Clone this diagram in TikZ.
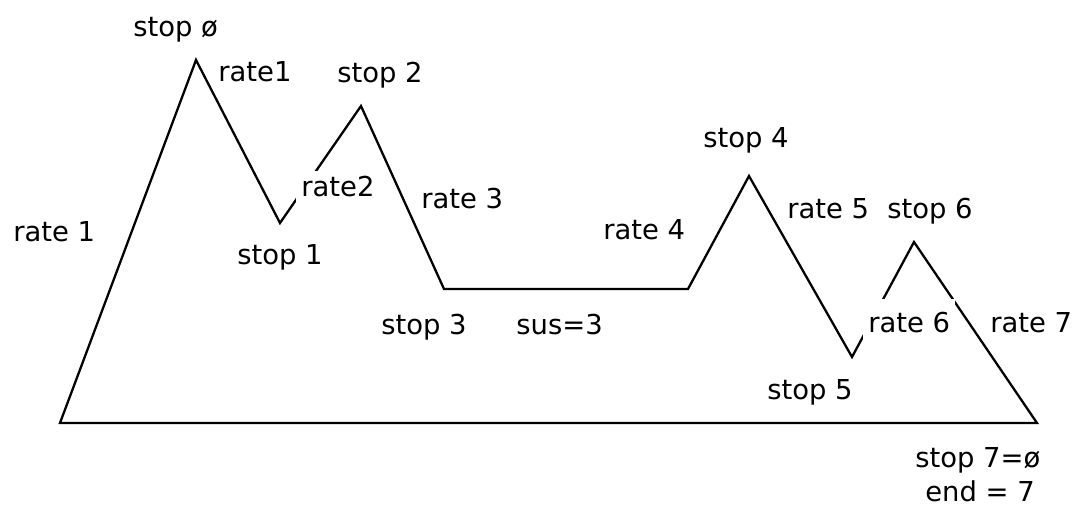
\documentclass[tikz,border=0pt]{standalone}
\usepackage{fontspec}
\setmainfont{DejaVu Sans}
\usepackage{tikz}

\begin{document}
\begin{tikzpicture}[
    x=0.02cm, y=-0.02cm,
    every node/.style={font=\fontsize{15.6}{18}\selectfont},
    lbl/.style={anchor=base west, inner sep=0pt},
    cut/.style={anchor=base west, fill=white, inner sep=3pt, xshift=-3pt},
    env/.style={line width=1.3pt, line join=miter}
]
\useasboundingbox (0,0) rectangle (1083,516);

% Breakpoints of the envelope
\coordinate (start) at (60,423);
\coordinate (stop0) at (196,60);
\coordinate (stop1) at (280,223);
\coordinate (stop2) at (361,106);
\coordinate (stop3) at (444,289);
\coordinate (susend) at (688,289);
\coordinate (stop4) at (749,176);
\coordinate (stop5) at (852,357);
\coordinate (stop6) at (914,242);
\coordinate (stop7) at (1037,423);

% Envelope outline
\draw[env] (start) -- (stop0) -- (stop1) -- (stop2) -- (stop3) -- (susend)
    -- (stop4) -- (stop5) -- (stop6) -- (stop7) -- cycle;

% Stop labels
\node[lbl] (l0) at (133,37) {stop ø};
\node[lbl] (l1) at (237,265) {stop 1};
\node[lbl] (l2) at (337,83) {stop 2};
\node[lbl] (l3) at (381,335) {stop 3};
\node[lbl] (l4) at (703,148) {stop 4};
\node[lbl] (l5) at (767,400) {stop 5};
\node[lbl] (l6) at (887,219) {stop 6};
\node[lbl] (l7) at (915,468) {stop 7=ø};

% Rate labels (some sit on the lines and blank them out)
\node[lbl] (r1) at (13,242) {rate 1};
\node[cut, inner ysep=5pt] (r1b) at (218,82) {rate1};
\node[cut] (r2) at (301,197) {rate2};
\node[cut, inner ysep=5pt] (r3) at (421,209) {rate 3};
\node[lbl] (r4) at (603,240) {rate 4};
\node[lbl] (r5) at (787,219) {rate 5};
\node[cut, inner ysep=8pt] (r6) at (868,333) {rate 6};
\node[lbl] (r7) at (990,333) {rate 7};

% Sustain and end
\node[lbl] (sus) at (516,335) {sus=3};
\node[lbl] (end) at (925,502) {end = 7};

\end{tikzpicture}
\end{document}
